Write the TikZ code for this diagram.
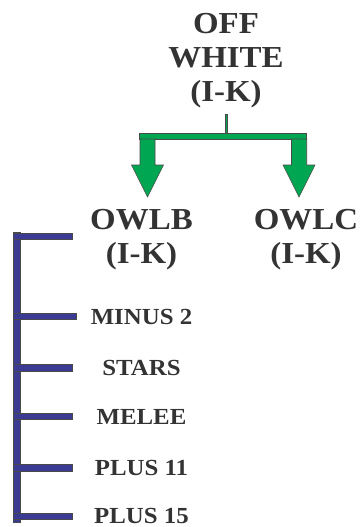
\documentclass[tikz,border=0pt]{standalone}
\usepackage{fontspec}
\setmainfont{Liberation Serif}[FakeStretch=1.08]
\definecolor{txt}{HTML}{333333}
\definecolor{grn}{HTML}{00A651}
\definecolor{blu}{HTML}{3B3B94}
\definecolor{edge}{HTML}{4A4A4A}
\begin{document}
\begin{tikzpicture}[x=1pt,y=-1pt,
  big/.style={font=\fontsize{30.5}{34}\selectfont\bfseries, text=txt, align=center, inner sep=0pt, anchor=base},
  small/.style={font=\fontsize{23}{26}\selectfont\bfseries, text=txt, inner sep=0pt, anchor=base},
  gshape/.style={fill=grn, draw=edge, line width=0.6pt, line join=miter},
  bshape/.style={fill=blu, draw=edge, line width=0.6pt}]
\useasboundingbox (0,0) rectangle (361,527);
% text (base anchor = baseline of last line)
\node[big] (top) at (226,101) {OFF\\WHITE\\(I-K)};
\node[big] (owlb) at (141.5,263) {OWLB\\(I-K)};
\node[big] (owlc) at (306,263) {OWLC\\(I-K)};
\node[small] (m2) at (141.5,324) {MINUS 2};
\node[small] (st) at (141.5,375.5) {STARS};
\node[small] (me) at (141.5,424) {MELEE};
\node[small] (p11) at (141.5,475.5) {PLUS 11};
\node[small] (p15) at (141.5,523.5) {PLUS 15};
% green connector
\draw[gshape] (225.7,114) rectangle (227.7,133);
\draw[gshape] (139,133) rectangle (306.7,139);
\draw[gshape] (140,139) -- (155,139) -- (155,165) -- (163.5,165) -- (147.5,197) -- (131.5,165) -- (140,165) -- cycle;
\draw[gshape] (291.5,139) -- (306.7,139) -- (306.7,165) -- (315,165) -- (299,197) -- (283,165) -- (291.5,165) -- cycle;
% blue bracket
\draw[bshape] (13.3,232.5) rectangle (20,522);
\foreach \y/\r in {236/72.7, 316/76, 367.7/72.7, 416/72.7, 467.7/72.7, 516/72.7}
  \draw[bshape] (13.3,\y-3.2) rectangle (\r,\y+3.2);
\end{tikzpicture}
\end{document}
